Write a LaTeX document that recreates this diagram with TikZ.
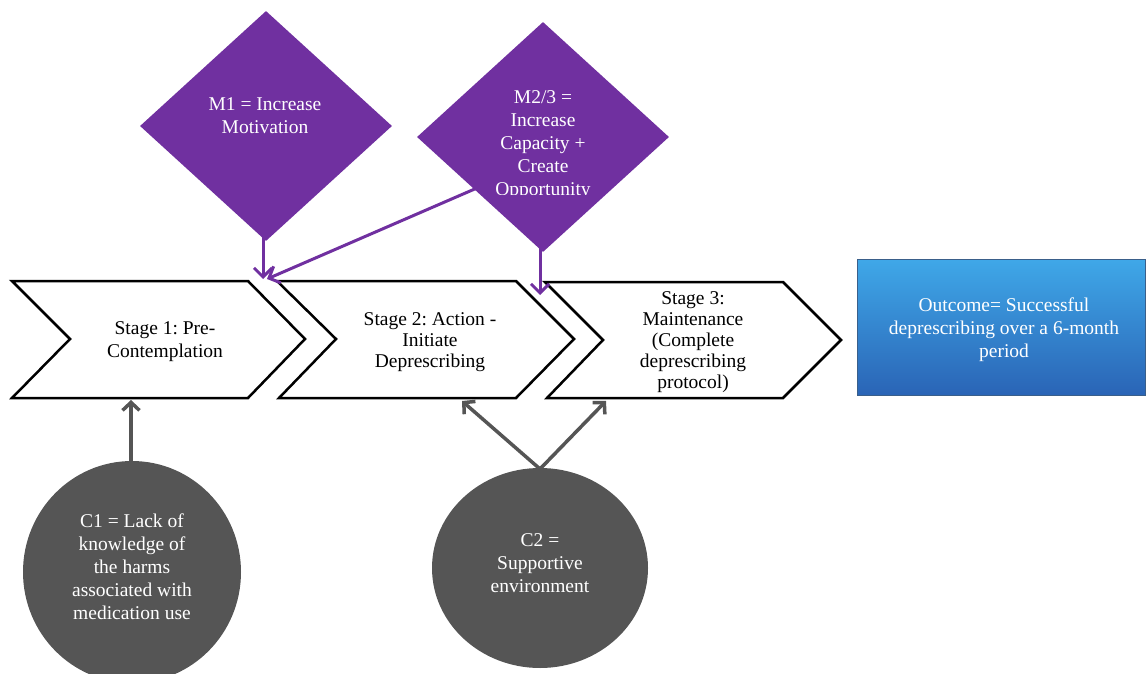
\documentclass[tikz,border=0pt]{standalone}
\usepackage{fontspec}
\setmainfont{Liberation Serif}
\usetikzlibrary{arrows.meta,shapes.geometric}
\definecolor{mpurple}{HTML}{7030A0}
\definecolor{cgray}{HTML}{555555}
\definecolor{btop}{HTML}{3FA8E8}
\definecolor{bbot}{HTML}{2A64B6}
\definecolor{bedge}{HTML}{3A5F8A}
\frenchspacing
\begin{document}
\begin{tikzpicture}[x=1pt,y=-1pt,
  txt/.style={font=\fontsize{19.5}{23}\selectfont, align=center, inner sep=0pt},
  stxt/.style={font=\fontsize{19.5}{21}\selectfont, align=center, inner sep=0pt},
  wtxt/.style={txt, text=white},
  diam/.style={diamond, fill=mpurple, draw=none, minimum width=252pt, minimum height=230pt, inner sep=0pt},
  chevron/.style={draw=black, line width=2.5pt, fill=white, line join=miter},
  parrow/.style={draw=mpurple, line width=3pt, -{Straight Barb[length=9pt,width=18pt,line width=3pt]}},
  garrow/.style={draw=cgray, line width=3.5pt, -{Straight Barb[length=8pt,width=17pt,line width=3.5pt]}},
  circ/.style={ellipse, fill=cgray, draw=none, inner sep=0pt}
]
\useasboundingbox (0,0) rectangle (1146,674);
\begin{scope}
\clip (0,0) rectangle (1146,674);
% diamonds
\node[diam] (m1) at (266,126) {};
\node[wtxt] (m1t) at (265,116) {M1 = Increase\\Motivation};
\node[diam] (m2) at (543,137) {};
\begin{scope}
\clip (400,0) rectangle (690,194);
\node[wtxt] (m2t) at (543,145) {M2/3 =\\Increase\\Capacity +\\Create\\Opportunity};
\end{scope}
% chevrons
\draw[chevron] (12,281) -- (248,281) -- (305,339) -- (248,398) -- (12,398) -- (70,339) -- cycle;
\draw[chevron] (277,281) -- (516,281) -- (574,339) -- (516,398) -- (279,398) -- (336,339) -- cycle;
\draw[chevron] (545,282) -- (783,282) -- (841,340) -- (783,398) -- (547,398) -- (603,340) -- cycle;
\node[txt] (s1t) at (165,342) {Stage 1: Pre-\\Contemplation};
\node[stxt] (s2t) at (430,342) {Stage 2: Action -\\Initiate\\Deprescribing};
\node[stxt] (s3t) at (693,342) {Stage 3:\\Maintenance\\(Complete\\deprescribing\\protocol)};
% outcome
\node[draw=bedge, line width=1pt, top color=btop, bottom color=bbot, minimum width=288pt, minimum height=136pt, inner sep=0pt] (out) at (1001.5,327) {};
\node[wtxt] (outt) at (1004,330) {Outcome= Successful\\deprescribing over a 6-month\\period};
% circles
\node[circ, minimum width=218pt, minimum height=222pt] (c1) at (132,572) {};
\node[wtxt] (c1t) at (132,567) {C1 = Lack of\\knowledge of\\the harms\\associated with\\medication use};
\node[circ, minimum width=216pt, minimum height=200pt] (c2) at (540,568) {};
\node[wtxt] (c2t) at (540,563) {C2 =\\Supportive\\environment};
% connector points
\coordinate (m1s) at (263,208);
\coordinate (s1a) at (263,279);
\coordinate (m2s) at (477,188);
\coordinate (s1b) at (267,279);
\coordinate (m2b) at (540,238);
\coordinate (s3a) at (540,295);
\coordinate (c1s) at (131,466);
\coordinate (s1c) at (131,400);
\coordinate (c2s) at (540,469);
\coordinate (s2c) at (462,401);
\coordinate (s3c) at (606,401);
% purple arrows
\draw[parrow] (m1s) -- (s1a);
\draw[parrow] (m2s) -- (s1b);
\draw[parrow] (m2b) -- (s3a);
% gray arrows
\draw[garrow] (c1s) -- (s1c);
\draw[garrow] (c2s) -- (s2c);
\draw[garrow] (c2s) -- (s3c);
\end{scope}
\end{tikzpicture}
\end{document}
